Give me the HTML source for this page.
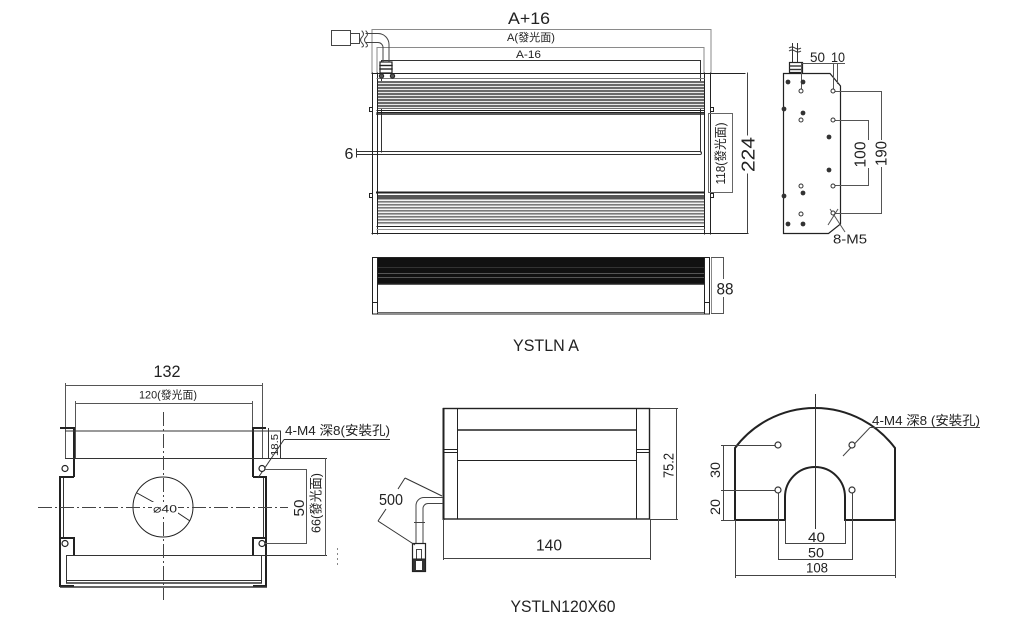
<!DOCTYPE html>
<html><head><meta charset="utf-8">
<style>
html,body{margin:0;padding:0;background:#fff;}
svg{display:block;}
text{font-family:"Liberation Sans","Noto Sans CJK TC",sans-serif;fill:#222;}
</style></head>
<body>
<svg width="1009" height="621" viewBox="0 0 1009 621" xmlns="http://www.w3.org/2000/svg">
<defs>
<pattern id="fin" width="6" height="3" patternUnits="userSpaceOnUse"><rect width="6" height="3" fill="#e8e8e8"/><rect width="6" height="2" fill="#6a6a6a"/></pattern>
<pattern id="fin2" width="6" height="3" patternUnits="userSpaceOnUse"><rect width="6" height="3" fill="#f2f2f2"/><rect width="6" height="1.6" fill="#7a7a7a"/></pattern>
</defs>

<!-- ================= TOP VIEW ================= -->
<g fill="none" stroke-linecap="square">
<!-- A+16 -->
<g stroke="#8a8a8a" stroke-width="1">
<line x1="372" y1="29.5" x2="711" y2="29.5"/>
<line x1="372" y1="29.5" x2="372" y2="73"/>
<line x1="711" y1="29.5" x2="711" y2="73"/>
<line x1="377" y1="47.5" x2="704" y2="47.5"/>
<line x1="377" y1="47.5" x2="377" y2="73"/>
<line x1="704" y1="47.5" x2="704" y2="73"/>
</g>
<!-- A-16 strip -->
<g stroke="#333" stroke-width="1">
<line x1="381.5" y1="60.5" x2="700.5" y2="60.5"/>
<line x1="381.5" y1="60.5" x2="381.5" y2="152"/>
<line x1="700.5" y1="60.5" x2="700.5" y2="152"/>
<path d="M357 151.5 H700 a1.5 1.5 0 0 1 0 3 H357"/>
<line x1="356.5" y1="149" x2="356.5" y2="157"/>
</g>
<!-- fins -->
<rect x="377" y="81" width="327" height="28" fill="url(#fin)" stroke="none"/>
<rect x="377" y="195" width="327" height="30" fill="url(#fin2)" stroke="none"/>
<rect x="377" y="195" width="327" height="4" fill="#555" stroke="none"/>
<!-- body outline -->
<g stroke="#222" stroke-width="1">
<line x1="372" y1="73.5" x2="745" y2="73.5"/>
<line x1="372" y1="233.5" x2="748" y2="233.5"/>
<line x1="372.5" y1="73" x2="372.5" y2="234"/>
<line x1="377.5" y1="73" x2="377.5" y2="234"/>
<line x1="704.5" y1="73" x2="704.5" y2="234"/>
<line x1="710.5" y1="73" x2="710.5" y2="234"/>
<line x1="377" y1="78.5" x2="704" y2="78.5" stroke="#777"/>
<line x1="377" y1="110.5" x2="704" y2="110.5"/>
<line x1="377" y1="112.5" x2="704" y2="112.5"/>
<line x1="377" y1="114" x2="704" y2="114" stroke-width="1.6"/>
<line x1="377" y1="192.5" x2="704" y2="192.5" stroke-width="2"/>
<line x1="377" y1="226.5" x2="704" y2="226.5"/>
<line x1="377" y1="229.5" x2="704" y2="229.5" stroke="#999"/>
</g>
<!-- small squares -->
<g stroke="#222" stroke-width="1" fill="#fff">
<rect x="369.5" y="107.5" width="3" height="4"/>
<rect x="369.5" y="193.5" width="3" height="4"/>
<rect x="710.5" y="107.5" width="3" height="4"/>
<rect x="710.5" y="193.5" width="3" height="4"/>
</g>
<!-- 118 box -->
<rect x="708.5" y="113.5" width="24" height="79" stroke="#666" stroke-width="1"/>
<!-- 224 dim -->
<line x1="747.5" y1="73" x2="747.5" y2="135" stroke="#444"/>
<line x1="747.5" y1="174" x2="747.5" y2="233" stroke="#444"/>
<!-- connector -->
<g stroke="#444" stroke-width="1">
<rect x="331.5" y="30.5" width="19" height="15" fill="#fff"/>
<rect x="350.5" y="33.5" width="9" height="10" fill="#fff"/>
<path d="M362 31 q3 3 0 6 q-3 3 0 6 q3 3 0 4"/>
<path d="M366 31 q3 3 0 6 q-3 3 0 6 q3 3 0 4"/>
<path d="M366 33.5 H378 a11 11 0 0 1 11 11 V62"/>
<path d="M366 42.5 H378 a5 5 0 0 1 5 5 V62"/>
</g>
<rect x="380" y="62" width="12" height="11" fill="#fff" stroke="#222" stroke-width="1.2"/>
<line x1="380" y1="65.5" x2="392" y2="65.5" stroke="#222" stroke-width="1.4"/>
<line x1="380" y1="69" x2="392" y2="69" stroke="#222" stroke-width="1.4"/>
<circle cx="381.5" cy="76" r="2.2" fill="#555" stroke="#222"/>
<circle cx="392.5" cy="76" r="2.2" fill="#555" stroke="#222"/>
</g>
<text x="529" y="24" font-size="17" text-anchor="middle" textLength="42" lengthAdjust="spacingAndGlyphs">A+16</text>
<text x="531" y="41" font-size="11" text-anchor="middle" textLength="48" lengthAdjust="spacingAndGlyphs">A(發光面)</text>
<text x="528.5" y="58" font-size="11" text-anchor="middle" textLength="25" lengthAdjust="spacingAndGlyphs">A-16</text>
<text x="349" y="159" font-size="16" text-anchor="middle">6</text>
<text transform="translate(720.5,153.5) rotate(-90)" dy="0.35em" font-size="12.5" text-anchor="middle" textLength="62" lengthAdjust="spacingAndGlyphs">118(發光面)</text>
<text transform="translate(748,154.5) rotate(-90)" dy="0.35em" font-size="18" text-anchor="middle" textLength="35" lengthAdjust="spacingAndGlyphs">224</text>

<!-- ================= SIDE VIEW ================= -->
<g fill="none" stroke="#333" stroke-width="1">
<path d="M783.5 73.5 H830 L840.5 86 V224 L828.5 233.5 H783.5 Z" stroke="#222" stroke-width="1.2"/>
<!-- gland & cable -->
<line x1="792.5" y1="43" x2="792.5" y2="62"/>
<line x1="797.5" y1="43" x2="797.5" y2="62"/>
<path d="M789 48 q3 -2 6 0 q3 2 6 0"/>
<path d="M789 51 q3 -2 6 0 q3 2 6 0"/>
<rect x="789.5" y="62.5" width="13" height="10" fill="#fff" stroke="#222" stroke-width="1.2"/>
<line x1="789.5" y1="66" x2="802.5" y2="66" stroke-width="1.4"/>
<line x1="789.5" y1="69.5" x2="802.5" y2="69.5" stroke-width="1.4"/>
<!-- 50 10 dim -->
<line x1="801" y1="63.5" x2="845" y2="63.5" stroke="#555"/>
<line x1="801.5" y1="63" x2="801.5" y2="89" stroke="#555"/>
<line x1="833.5" y1="63" x2="833.5" y2="89" stroke="#555"/>
<line x1="837.5" y1="63" x2="837.5" y2="84" stroke="#555"/>
<!-- 190 / 100 dims -->
<g stroke="#555">
<line x1="835" y1="91.5" x2="882" y2="91.5"/>
<line x1="835" y1="213.5" x2="882" y2="213.5"/>
<line x1="881.5" y1="91" x2="881.5" y2="140"/>
<line x1="881.5" y1="167" x2="881.5" y2="214"/>
<line x1="835" y1="120.5" x2="869" y2="120.5"/>
<line x1="835" y1="185.5" x2="869" y2="185.5"/>
<line x1="868.5" y1="120" x2="868.5" y2="140"/>
<line x1="868.5" y1="168" x2="868.5" y2="186"/>
<line x1="830" y1="209" x2="845" y2="232"/>
<line x1="838" y1="209" x2="828" y2="225"/>
</g>
<!-- open holes -->
<g fill="#fff" stroke="#333">
<circle cx="801" cy="91" r="2"/><circle cx="833" cy="91" r="2"/>
<circle cx="801" cy="120" r="2"/><circle cx="833" cy="120" r="2"/>
<circle cx="801" cy="186" r="2"/><circle cx="833" cy="186" r="2"/>
<circle cx="801" cy="214" r="2"/><circle cx="833" cy="213" r="2"/>
</g>
</g>
<g fill="#333">
<circle cx="788" cy="82" r="2.4"/><circle cx="803" cy="82" r="2.4"/>
<circle cx="784" cy="109" r="2.4"/><circle cx="803" cy="113" r="2.4"/>
<circle cx="829" cy="137" r="2.4"/><circle cx="829" cy="170" r="2.4"/>
<circle cx="803" cy="193" r="2.4"/><circle cx="784" cy="196" r="2.4"/>
<circle cx="788" cy="224" r="2.4"/><circle cx="803" cy="224" r="2.4"/>
</g>
<text x="817.5" y="62" font-size="13.5" text-anchor="middle" textLength="15" lengthAdjust="spacingAndGlyphs">50</text>
<text x="838" y="62" font-size="13.5" text-anchor="middle" textLength="14" lengthAdjust="spacingAndGlyphs">10</text>
<text transform="translate(860,154.5) rotate(-90)" dy="0.35em" font-size="16" text-anchor="middle" textLength="26" lengthAdjust="spacingAndGlyphs">100</text>
<text transform="translate(881,153.5) rotate(-90)" dy="0.35em" font-size="16" text-anchor="middle" textLength="25" lengthAdjust="spacingAndGlyphs">190</text>
<text x="850" y="243.5" font-size="13" text-anchor="middle" textLength="34" lengthAdjust="spacingAndGlyphs">8-M5</text>

<!-- ================= MIDDLE VIEW ================= -->
<g fill="none" stroke="#222" stroke-width="1">
<rect x="377" y="258" width="327" height="25.5" fill="#111" stroke="none"/>
<line x1="377" y1="273.5" x2="704" y2="273.5" stroke="#555"/>
<line x1="377" y1="277.5" x2="704" y2="277.5" stroke="#555"/>
<line x1="377" y1="267.5" x2="704" y2="267.5" stroke="#333"/>
<rect x="372.5" y="257.5" width="337" height="56.5"/>
<line x1="377.5" y1="257" x2="377.5" y2="314"/>
<line x1="704.5" y1="257" x2="704.5" y2="314"/>
<line x1="377" y1="284" x2="704" y2="284" stroke-width="1.5"/>
<line x1="372" y1="302.5" x2="377" y2="302.5"/>
<line x1="704" y1="302.5" x2="710" y2="302.5"/>
<line x1="711.5" y1="257" x2="711.5" y2="314" stroke="#888"/>
<line x1="377" y1="312.5" x2="704" y2="312.5" stroke="#666"/>
<g stroke="#555">
<line x1="711" y1="257.5" x2="724" y2="257.5"/>
<line x1="711" y1="313.5" x2="724" y2="313.5"/>
<line x1="723.5" y1="257" x2="723.5" y2="279"/>
<line x1="723.5" y1="297" x2="723.5" y2="314"/>
</g>
</g>
<text x="725" y="294.5" font-size="16.5" text-anchor="middle" textLength="17" lengthAdjust="spacingAndGlyphs">88</text>
<text x="546" y="351" font-size="17" text-anchor="middle" textLength="66" lengthAdjust="spacingAndGlyphs">YSTLN A</text>

<!-- ================= BOTTOM LEFT ================= -->
<g fill="none" stroke="#333" stroke-width="1">
<!-- dims 132 / 120 -->
<g stroke="#555">
<line x1="65" y1="385.5" x2="262" y2="385.5"/>
<line x1="65.5" y1="383" x2="65.5" y2="458"/>
<line x1="262.5" y1="383" x2="262.5" y2="458"/>
<line x1="75" y1="403.5" x2="252" y2="403.5"/>
<line x1="75.5" y1="401" x2="75.5" y2="458"/>
<line x1="252.5" y1="401" x2="252.5" y2="458"/>
</g>
<!-- outer channel shapes -->
<g stroke="#222" stroke-width="2">
<path d="M74 477 H60 V586 H74"/>
<path d="M60 428 H74 V477"/>
<path d="M60 538 H74 V555"/>
<path d="M253 477 H266 V586 H253"/>
<path d="M266 428 H253 V477"/>
<path d="M266 538 H253 V555"/>
</g>
<line x1="63.5" y1="478" x2="63.5" y2="537"/>
<line x1="263.5" y1="478" x2="263.5" y2="537"/>
<line x1="65" y1="431" x2="281" y2="431"/>
<line x1="65" y1="458.5" x2="327" y2="458.5"/>
<line x1="66" y1="555.5" x2="327" y2="555.5"/>
<line x1="66.5" y1="555" x2="66.5" y2="583"/>
<line x1="261.5" y1="555" x2="261.5" y2="583"/>
<line x1="66" y1="580.5" x2="262" y2="580.5"/>
<line x1="66" y1="583" x2="262" y2="583" stroke-width="1.4"/>
<line x1="60" y1="587" x2="267" y2="587" stroke-width="1.5"/>
<!-- 18.5 -->
<line x1="268.5" y1="428" x2="268.5" y2="458"/>
<line x1="280.5" y1="431" x2="280.5" y2="458"/>
<!-- leader 4-M4 -->
<line x1="284" y1="439.5" x2="390" y2="439.5"/>
<line x1="284" y1="439.5" x2="258" y2="478"/>
<!-- holes -->
<g fill="#fff" stroke="#222" stroke-width="1.2">
<circle cx="65" cy="468.5" r="3"/><circle cx="262" cy="468.5" r="3"/>
<circle cx="65" cy="543.5" r="3"/><circle cx="262" cy="543.5" r="3"/>
</g>
<!-- 50 / 66 dims -->
<g stroke="#555">
<line x1="265" y1="469.5" x2="307" y2="469.5"/>
<line x1="265" y1="543.5" x2="307" y2="543.5"/>
<line x1="306.5" y1="469" x2="306.5" y2="544"/>
<line x1="325.5" y1="458" x2="325.5" y2="556"/>
</g>
<!-- circle -->
<circle cx="163" cy="507" r="30" stroke="#222"/>
<line x1="137" y1="493" x2="155" y2="503" stroke="#222"/>
<line x1="175" y1="511" x2="190" y2="521" stroke="#222"/>
<!-- centerlines -->
<line x1="38" y1="507.5" x2="288" y2="507.5" stroke="#444" stroke-dasharray="14 3 2 3"/>
<line x1="163.5" y1="412" x2="163.5" y2="600" stroke="#444" stroke-dasharray="14 3 2 3"/>
<line x1="337.5" y1="548" x2="337.5" y2="566" stroke="#888" stroke-dasharray="2 3"/>
</g>
<text x="167" y="377" font-size="16.5" text-anchor="middle" textLength="27" lengthAdjust="spacingAndGlyphs">132</text>
<text x="168" y="398.5" font-size="11" text-anchor="middle" textLength="58" lengthAdjust="spacingAndGlyphs">120(發光面)</text>
<text x="285" y="435" font-size="13" textLength="105" lengthAdjust="spacingAndGlyphs">4-M4 深8(安裝孔)</text>
<text transform="translate(274.5,445) rotate(-90)" dy="0.35em" font-size="10" text-anchor="middle" textLength="22" lengthAdjust="spacingAndGlyphs">18.5</text>
<rect x="152" y="502" width="26" height="13" fill="#fff"/>
<text x="165" y="512.5" font-size="11" text-anchor="middle" textLength="24" lengthAdjust="spacingAndGlyphs">⌀40</text>
<text transform="translate(298.5,508) rotate(-90)" dy="0.35em" font-size="15" text-anchor="middle" textLength="17" lengthAdjust="spacingAndGlyphs">50</text>
<text transform="translate(316,503) rotate(-90)" dy="0.35em" font-size="13" text-anchor="middle" textLength="60" lengthAdjust="spacingAndGlyphs">66(發光面)</text>

<!-- ================= BOTTOM MIDDLE ================= -->
<g fill="none" stroke="#222" stroke-width="1">
<rect x="443.5" y="408.5" width="206" height="110.5" stroke-width="1.4"/>
<line x1="443.5" y1="408" x2="443.5" y2="520" stroke-width="2"/>
<line x1="457.5" y1="408" x2="457.5" y2="519"/>
<line x1="636.5" y1="408" x2="636.5" y2="519"/>
<line x1="457" y1="430" x2="636" y2="430" stroke-width="1.6"/>
<line x1="457" y1="460.5" x2="636" y2="460.5"/>
<line x1="443" y1="449.5" x2="457" y2="449.5"/>
<line x1="443" y1="452.5" x2="457" y2="452.5"/>
<line x1="636" y1="449.5" x2="650" y2="449.5"/>
<line x1="636" y1="452.5" x2="650" y2="452.5"/>
<g stroke="#444">
<line x1="650" y1="408.5" x2="678" y2="408.5"/>
<line x1="650" y1="519.5" x2="678" y2="519.5"/>
<line x1="676.5" y1="408" x2="676.5" y2="520"/>
<line x1="443.5" y1="519" x2="443.5" y2="560"/>
<line x1="650.5" y1="519" x2="650.5" y2="560"/>
<line x1="443" y1="558.5" x2="651" y2="558.5"/>
</g>
<!-- cable -->
<path d="M443 497.5 H424 a8 8 0 0 0 -8 8 V545" stroke="#444"/>
<path d="M443 503.5 H428 a5 5 0 0 0 -5 5 V545" stroke="#444"/>
<line x1="414" y1="522.5" x2="425" y2="522.5" stroke="#444"/>
<!-- connector -->
<rect x="412.5" y="543.5" width="13" height="28" fill="#fff" stroke="#222" stroke-width="1.2"/>
<rect x="416.5" y="549.5" width="5" height="10" fill="#fff" stroke="#444"/>
<rect x="412.5" y="559" width="13" height="12.5" fill="#333" stroke="#222"/>
<rect x="416" y="561" width="6" height="9" fill="#fff" stroke="none"/>
<!-- 500 dim -->
<g stroke="#333">
<line x1="405" y1="478" x2="442" y2="496"/>
<line x1="378" y1="521" x2="415" y2="545"/>
<line x1="405" y1="478" x2="398" y2="489"/>
<line x1="386" y1="509" x2="378" y2="521"/>
</g>
</g>
<text transform="translate(668,465.5) rotate(-90)" dy="0.35em" font-size="15" text-anchor="middle" textLength="25" lengthAdjust="spacingAndGlyphs">75.2</text>
<text x="549" y="550.5" font-size="16" text-anchor="middle" textLength="26" lengthAdjust="spacingAndGlyphs">140</text>
<text x="391" y="505" font-size="15.5" text-anchor="middle" textLength="24" lengthAdjust="spacingAndGlyphs">500</text>
<text x="563" y="612" font-size="17" text-anchor="middle" textLength="105" lengthAdjust="spacingAndGlyphs">YSTLN120X60</text>

<!-- ================= BOTTOM RIGHT ================= -->
<g fill="none" stroke="#222" stroke-width="1">
<path d="M735 520 V448 A100 100 0 0 1 895 448 V520 H845 V497 A30 30 0 0 0 785 497 V520 Z" stroke-width="2"/>
<line x1="815.5" y1="394" x2="815.5" y2="529" stroke="#333"/>
<g stroke="#444">
<line x1="785.5" y1="520" x2="785.5" y2="544"/>
<line x1="845.5" y1="520" x2="845.5" y2="544"/>
<line x1="785" y1="543.5" x2="846" y2="543.5"/>
<line x1="778.5" y1="493" x2="778.5" y2="560"/>
<line x1="852.5" y1="493" x2="852.5" y2="560"/>
<line x1="778" y1="559.5" x2="853" y2="559.5"/>
<line x1="735.5" y1="520" x2="735.5" y2="578"/>
<line x1="895.5" y1="520" x2="895.5" y2="578"/>
<line x1="735" y1="575.5" x2="896" y2="575.5"/>
<line x1="721" y1="445.5" x2="775" y2="445.5"/>
<line x1="721" y1="490.5" x2="775" y2="490.5"/>
<line x1="721" y1="520.5" x2="735" y2="520.5"/>
<line x1="723.5" y1="445" x2="723.5" y2="521"/>
<line x1="870" y1="427.5" x2="980" y2="427.5"/>
<line x1="870" y1="427.5" x2="843" y2="456"/>
</g>
<g fill="#fff" stroke="#333" stroke-width="1.2">
<circle cx="778" cy="445" r="3"/><circle cx="852" cy="445" r="3"/>
<circle cx="778" cy="490" r="3"/><circle cx="852" cy="490" r="3"/>
</g>
</g>
<text x="872" y="425" font-size="13" textLength="108" lengthAdjust="spacingAndGlyphs">4-M4 深8 (安裝孔)</text>
<text transform="translate(715,470) rotate(-90)" dy="0.35em" font-size="14" text-anchor="middle" textLength="16" lengthAdjust="spacingAndGlyphs">30</text>
<text transform="translate(715,507) rotate(-90)" dy="0.35em" font-size="14" text-anchor="middle" textLength="16" lengthAdjust="spacingAndGlyphs">20</text>
<text x="816.5" y="542" font-size="14" text-anchor="middle" textLength="17" lengthAdjust="spacingAndGlyphs">40</text>
<text x="816" y="557.5" font-size="14" text-anchor="middle" textLength="16" lengthAdjust="spacingAndGlyphs">50</text>
<text x="817" y="572.5" font-size="14" text-anchor="middle" textLength="22" lengthAdjust="spacingAndGlyphs">108</text>
</svg>
</body></html>
